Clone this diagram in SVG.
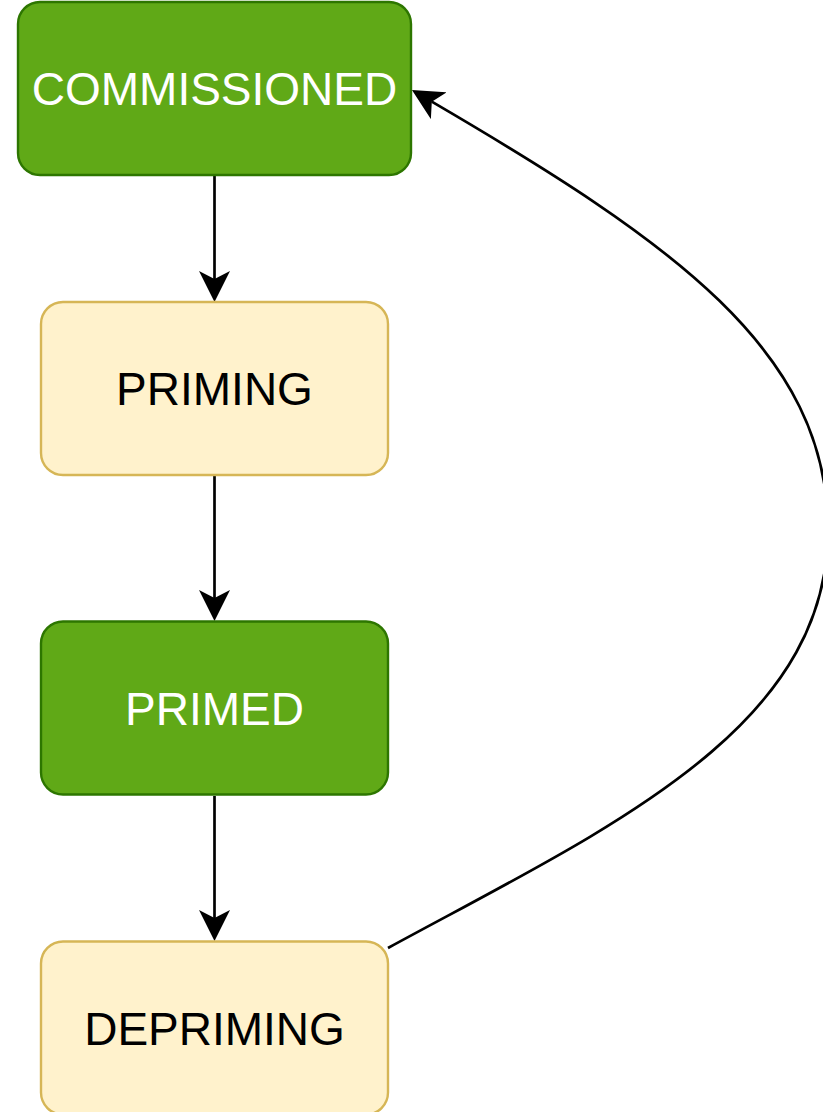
<svg xmlns="http://www.w3.org/2000/svg" width="823" height="1112" viewBox="0 0 823 1112">
<style>
.green{fill:#60a917;stroke:#2d7600;stroke-width:2.4}
.yellow{fill:#fff2cc;stroke:#d6b656;stroke-width:2.4}
.lbl{font-family:"Liberation Sans",Arial,sans-serif;font-size:46px;text-anchor:middle}
.w{fill:#ffffff}
.b{fill:#000000}
.edge{fill:none;stroke:#000000;stroke-width:2.7}
</style>
<defs>
<marker id="arr" markerUnits="userSpaceOnUse" markerWidth="31" markerHeight="31" viewBox="0 0 31 31" refX="8" refY="15.5" orient="auto">
<path d="M0,0 L31,15.5 L0,31 L8,15.5 Z" fill="#000000"/>
</marker>
</defs>
<rect width="823" height="1112" fill="#ffffff"/>
<g id="connectors">
<path class="edge" d="M214.5,176 L214.5,279" marker-end="url(#arr)"/>
<path class="edge" d="M214.5,476 L214.5,598" marker-end="url(#arr)"/>
<path class="edge" d="M214.5,796 L214.5,918" marker-end="url(#arr)"/>
<path class="edge" d="M388,948 C607.5,828.5 828,730 828,530 C828,350 670,241 431.8,101.7" marker-end="url(#arr)"/>
</g>
<g id="commissioned">
<rect class="green" x="18" y="2" width="393" height="173" rx="22" ry="22"/>
<text class="lbl w" x="214.5" y="105">COMMISSIONED</text>
</g>
<g id="priming">
<rect class="yellow" x="41" y="302" width="347" height="173" rx="22" ry="22"/>
<text class="lbl b" x="214.5" y="404.5">PRIMING</text>
</g>
<g id="primed">
<rect class="green" x="41" y="621.5" width="347" height="173" rx="22" ry="22"/>
<text class="lbl w" x="214.5" y="724.5">PRIMED</text>
</g>
<g id="depriming">
<rect class="yellow" x="41" y="941.5" width="347" height="173" rx="22" ry="22"/>
<text class="lbl b" x="214.5" y="1044.5">DEPRIMING</text>
</g>
</svg>
